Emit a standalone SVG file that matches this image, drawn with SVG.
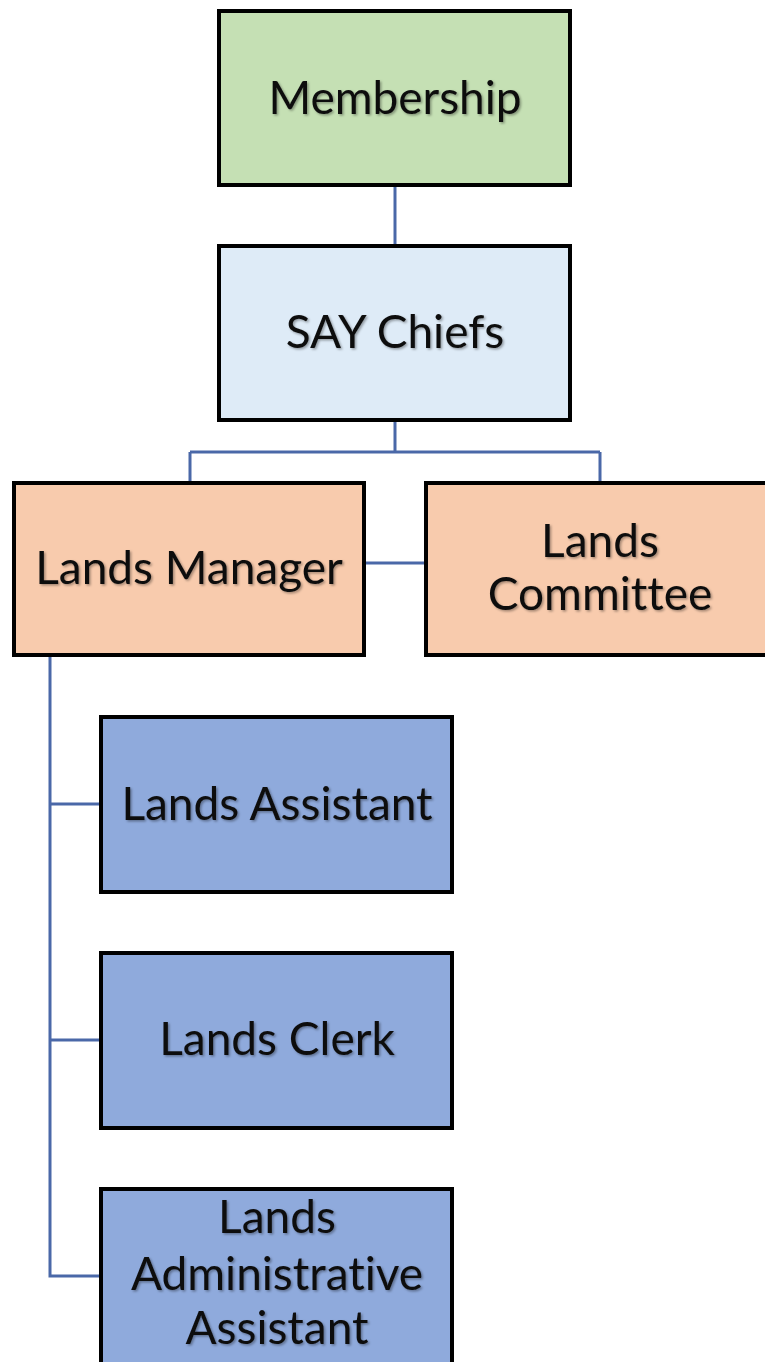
<svg xmlns="http://www.w3.org/2000/svg" width="765" height="1362" viewBox="0 0 765 1362">
<defs>
<style>
.box{stroke:#000;stroke-width:4}
.green{fill:#c5e0b4}.lblue{fill:#deebf7}.orange{fill:#f8cbad}.blue{fill:#8faadc}
.t{font-family:Lato,"Liberation Sans",sans-serif;font-size:46px;fill:#111;text-anchor:middle;font-variant-ligatures:none;font-feature-settings:"liga" 0,"dlig" 0;filter:url(#sh)}
.c{stroke:#4a68a8;stroke-width:3;fill:none}
</style>
<filter id="sh" x="-10%" y="-30%" width="120%" height="160%"><feDropShadow dx="1.5" dy="1.5" stdDeviation="1.2" flood-color="#000" flood-opacity="0.35"/></filter>
</defs>
<rect width="765" height="1362" fill="#fff"/>
<g id="connectors">
<path class="c" d="M395 185V245"/>
<path class="c" d="M395 420V452M190 452H600M190 452V483M600 452V483"/>
<path class="c" d="M364 563H426"/>
<path class="c" d="M50 655V1276H101M50 804H101M50 1040H101"/>
</g>
<g id="membership"><rect class="box green" x="219" y="11" width="351" height="174"/><text class="t" x="395" y="114">Membership</text></g>
<g id="say-chiefs"><rect class="box lblue" x="219" y="246" width="351" height="174"/><text class="t" x="395" y="348">SAY Chiefs</text></g>
<g id="lands-manager"><rect class="box orange" x="14" y="483" width="350" height="172"/><text class="t" x="189" y="584">Lands Manager</text></g>
<g id="lands-committee"><rect class="box orange" x="426" y="483" width="345" height="172"/><text class="t" x="600" y="557">Lands</text><text class="t" x="600" y="610">Committee</text></g>
<g id="lands-assistant"><rect class="box blue" x="101" y="717" width="351" height="175"/><text class="t" x="277" y="820">Lands Assistant</text></g>
<g id="lands-clerk"><rect class="box blue" x="101" y="953" width="351" height="175"/><text class="t" x="277" y="1055">Lands Clerk</text></g>
<g id="lands-admin-assistant"><rect class="box blue" x="101" y="1189" width="351" height="180"/><text class="t" x="277" y="1233">Lands</text><text class="t" x="277" y="1290">Administrative</text><text class="t" x="277" y="1344">Assistant</text></g>
</svg>
